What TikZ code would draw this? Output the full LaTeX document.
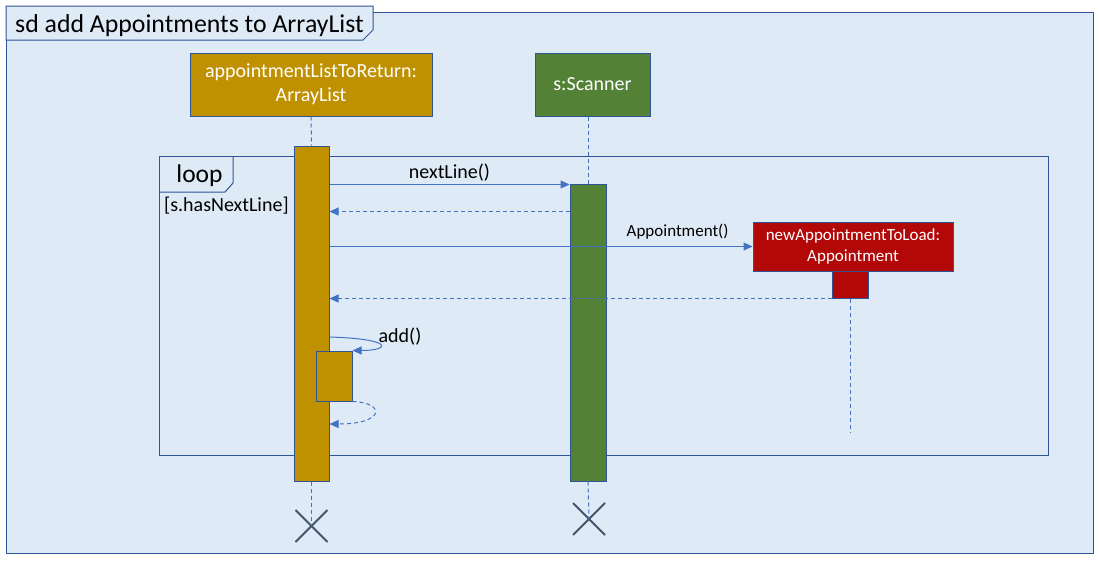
\documentclass[tikz,border=0pt]{standalone}
\usepackage{fontspec}
\setmainfont{Carlito}
\usetikzlibrary{arrows.meta,shapes.misc}
\definecolor{framebg}{RGB}{222,234,246}
\definecolor{frameline}{RGB}{47,85,151}
\definecolor{msgblue}{RGB}{68,114,196}
\definecolor{listgold}{RGB}{191,144,0}
\definecolor{scangreen}{RGB}{83,129,53}
\definecolor{newred}{RGB}{178,8,8}
\definecolor{crossgray}{RGB}{68,84,106}
\tikzset{
  obj/.style={draw=frameline, line width=1pt, text=white, align=center, inner sep=0pt, font=\fontsize{20}{24}\selectfont},
  act/.style={draw=frameline, line width=1pt, inner sep=0pt},
  msg/.style={draw=msgblue, line width=1pt, -{Triangle[length=9pt,width=8pt]}},
  reply/.style={msg, dash pattern=on 4pt off 3pt},
  life/.style={draw=msgblue, line width=1pt, dash pattern=on 4pt off 3pt},
  kill/.style={draw=crossgray, line width=2pt, cross out, minimum size=30pt, inner sep=0pt},
  lbl/.style={font=\fontsize{20}{24}\selectfont, inner sep=0pt},
}
\begin{document}
\begin{tikzpicture}[x=1pt,y=-1pt]
\useasboundingbox (0,0) rectangle (1100,562);
% frame
\path[fill=framebg,draw=frameline,line width=1pt] (6,12) rectangle (1093,553);
\path[fill=framebg,draw=frameline,line width=1pt] (6,6) -- (373,6) -- (373,30) -- (363,40) -- (6,40) -- cycle;
\node[lbl,font=\fontsize{25.8}{30}\selectfont,anchor=base west] (title) at (15,32.5) {sd add Appointments to ArrayList};

% loop fragment
\path[draw=frameline,line width=1pt] (159,156) rectangle (1048,455);
\path[draw=frameline,line width=1pt] (159,192) -- (225,192) -- (233,183) -- (233,156);
\node[lbl,font=\fontsize{25.5}{30}\selectfont,anchor=base] (loop) at (199.5,182.5) {loop};
\node[lbl,anchor=base west] (guard) at (164,211) {[s.hasNextLine]};

% objects
\node[obj,fill=listgold,minimum width=242pt,minimum height=63pt] (listbox) at (311,84.5) {appointmentListToReturn:\\ArrayList};
\node[obj,fill=scangreen,minimum width=115pt,minimum height=63pt] (scanbox) at (592.5,84.5) {s:Scanner};

% activations
\node[act,fill=listgold,minimum width=35pt,minimum height=335pt] (listact) at (311.5,313.5) {};
\node[act,fill=listgold,minimum width=36pt,minimum height=50pt] (addact) at (334,376) {};
\node[act,fill=scangreen,minimum width=36pt,minimum height=297pt] (scanact) at (588,332.5) {};
\node[obj,fill=newred,minimum width=200pt,minimum height=49pt,font=\fontsize{17}{21}\selectfont] (newbox) at (853,246.5) {newAppointmentToLoad:\\Appointment};
\node[act,fill=newred,minimum width=36pt,minimum height=27pt] (newact) at (850,284.5) {};

% lifelines
\node[kill] (listend) at (311.5,526) {};
\node[kill] (scanend) at (589,519) {};
\coordinate (newend) at (850,432);
\path[life] (listbox.south) -- (listact.north);
\path[life] (listact.south) -- (listend.center);
\path[life] (scanact.north |- scanbox.south) -- (scanact.north);
\path[life] (scanact.south) -- (scanend.center);
\path[life] (newact.south) -- (newend);

% messages
\path[msg] (listact.east |- 0,184.5) -- node[lbl,midway,anchor=base,yshift=6.5pt] {nextLine()} (scanact.west |- 0,184.5);
\path[reply] (scanact.west |- 0,211.5) -- (listact.east |- 0,211.5);
\path[msg] (listact.east |- newbox.west) -- node[lbl,pos=0.823,anchor=base,yshift=10pt,font=\fontsize{17}{21}\selectfont] {Appointment()} (newbox.west);
\path[reply] (newact.south west) -- (listact.east |- newact.south west);
\path[msg] (listact.east |- 0,337) .. controls +(66,2) and +(38,0) .. (addact.north east);
\node[lbl,anchor=base] (addlbl) at (400,342) {add()};
\path[reply] (addact.south east) .. controls +(33,1) and +(56,0) .. (listact.east |- 0,424);
\end{tikzpicture}
\end{document}
